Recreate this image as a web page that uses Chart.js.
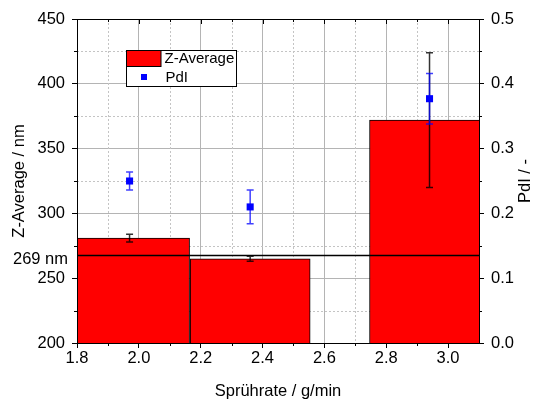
<!DOCTYPE html>
<html>
<head>
<meta charset="utf-8">
<script src="https://cdn.jsdelivr.net/npm/chart.js@4.4.0/dist/chart.umd.min.js"></script>
<style>
  html, body { margin: 0; padding: 0; background: #fff; }
</style>
</head>
<body>
<canvas id="chart" width="536" height="401"></canvas>
<script>
const rates = [1.97, 2.36, 2.94];
const zAverage = [281, 265, 372];
const zAverageErr = [3, 2, 52];
const pdi = [0.25, 0.21, 0.377];
const pdiErr = [0.014, 0.026, 0.039];
const refValue = 267.5;
const refLabel = '269 nm';

const xTicks = [1.8, 2.0, 2.2, 2.4, 2.6, 2.8, 3.0];
const xMinor = [1.9, 2.1, 2.3, 2.5, 2.7, 2.9];
const zTicks = [200, 250, 300, 350, 400, 450];
const zMinor = [225, 275, 325, 375, 425];
const pdiTicks = [0, 0.1, 0.2, 0.3, 0.4, 0.5];
const pdiMinor = [0.05, 0.15, 0.25, 0.35, 0.45];

const FONT = "'Liberation Sans', Arial, sans-serif";
const tickFont = { family: FONT, size: 16.5 };
const titleFont = { family: FONT, size: 16.5 };

const ctx = document.getElementById('chart').getContext('2d');

function errorBar(c, x, yTop, yBot, color, width) {
  c.save();
  c.strokeStyle = color;
  c.lineWidth = width;
  c.beginPath();
  c.moveTo(x, yTop);
  c.lineTo(x, yBot);
  c.moveTo(x - 3.5, yTop);
  c.lineTo(x + 3.5, yTop);
  c.moveTo(x - 3.5, yBot);
  c.lineTo(x + 3.5, yBot);
  c.stroke();
  c.restore();
}

const extras = {
  id: 'extras',
  beforeDatasetsDraw(chart) {
    const c = chart.ctx;
    const a = chart.chartArea;
    const x = chart.scales.x, y = chart.scales.y;
    // dotted minor grid
    c.save();
    c.strokeStyle = '#c4c4c4';
    c.lineWidth = 1;
    c.setLineDash([2, 2]);
    c.beginPath();
    xMinor.forEach(v => {
      const px = Math.round(x.getPixelForValue(v)) + 0.5;
      c.moveTo(px, a.top);
      c.lineTo(px, a.bottom);
    });
    zMinor.forEach(v => {
      const py = Math.round(y.getPixelForValue(v)) + 0.5;
      c.moveTo(a.left, py);
      c.lineTo(a.right, py);
    });
    c.stroke();
    c.restore();
  },
  beforeDatasetDraw(chart, args) {
    if (args.index !== 1) return;
    const x = chart.scales.x, y1 = chart.scales.y1;
    rates.forEach((r, i) => {
      errorBar(chart.ctx, x.getPixelForValue(r),
        y1.getPixelForValue(pdi[i] + pdiErr[i]),
        y1.getPixelForValue(pdi[i] - pdiErr[i]), 'rgba(0,0,255,0.75)', 1.5);
    });
  },
  afterDatasetDraw(chart, args) {
    if (args.index !== 0) return;
    const c = chart.ctx;
    const a = chart.chartArea;
    const x = chart.scales.x, y = chart.scales.y;
    const py = y.getPixelForValue(refValue);
    c.save();
    c.strokeStyle = '#000';
    c.lineWidth = 1.5;
    c.beginPath();
    c.moveTo(a.left, py);
    c.lineTo(a.right, py);
    c.stroke();
    c.restore();
    rates.forEach((r, i) => {
      errorBar(c, x.getPixelForValue(r),
        y.getPixelForValue(zAverage[i] + zAverageErr[i]),
        y.getPixelForValue(zAverage[i] - zAverageErr[i]), 'rgba(0,0,0,0.8)', 1.5);
    });
  },
  afterDatasetsDraw(chart) {
    const c = chart.ctx;
    const a = chart.chartArea;
    const x = chart.scales.x, y = chart.scales.y, y1 = chart.scales.y1;
    c.save();
    c.strokeStyle = '#000';
    c.lineWidth = 1;
    c.strokeRect(Math.round(a.left) + 0.5, Math.round(a.top) + 0.5,
      Math.round(a.right - a.left), Math.round(a.bottom - a.top));
    c.beginPath();
    // minor ticks outward
    xMinor.forEach(v => {
      const px = Math.round(x.getPixelForValue(v)) + 0.5;
      c.moveTo(px, a.bottom);
      c.lineTo(px, a.bottom + 3);
      c.moveTo(px, a.top);
      c.lineTo(px, a.top + 3);
    });
    // top major ticks inward
    xTicks.forEach(v => {
      const px = Math.round(x.getPixelForValue(v)) + 0.5;
      c.moveTo(px, a.top);
      c.lineTo(px, a.top + 5);
    });
    zMinor.forEach(v => {
      const py = Math.round(y.getPixelForValue(v)) + 0.5;
      c.moveTo(a.left, py);
      c.lineTo(a.left - 3, py);
    });
    pdiMinor.forEach(v => {
      const py = Math.round(y1.getPixelForValue(v)) + 0.5;
      c.moveTo(a.right, py);
      c.lineTo(a.right + 3, py);
    });
    c.stroke();

    // reference label on the left axis
    c.fillStyle = '#000';
    c.font = '16.5px ' + FONT;
    c.textAlign = 'right';
    c.textBaseline = 'middle';
    c.fillText(refLabel, a.left - 9, y.getPixelForValue(refValue) + 4);
    c.restore();
  },
  afterDraw(chart) {
    const c = chart.ctx;
    const a = chart.chartArea;
    const ds = chart.data.datasets;
    c.save();
    // right axis title
    c.translate(525, (a.top + a.bottom) / 2);
    c.rotate(-Math.PI / 2);
    c.fillStyle = '#000';
    c.font = '16.5px ' + FONT;
    c.textAlign = 'center';
    c.textBaseline = 'middle';
    c.fillText('PdI / -', 0, 0);
    c.restore();

    // legend
    c.save();
    c.fillStyle = '#fff';
    c.fillRect(126.5, 50.5, 110, 36);
    c.strokeStyle = '#000';
    c.lineWidth = 1;
    c.strokeRect(126.5, 50.5, 110, 36);
    c.fillStyle = ds[0].backgroundColor;
    c.fillRect(126.5, 50.5, 34.5, 16);
    c.strokeRect(126.5, 50.5, 34.5, 16);
    c.fillStyle = ds[1].backgroundColor;
    c.fillRect(141, 74, 6, 6);
    c.fillStyle = '#000';
    c.font = '15px ' + FONT;
    c.textAlign = 'left';
    c.textBaseline = 'middle';
    c.fillText(ds[0].label, 164.5, 59);
    c.fillText(ds[1].label, 165.5, 77.5);
    c.restore();
  }
};

const chart = new Chart(ctx, {
  type: 'bar',
  data: {
    datasets: [
      {
        type: 'bar',
        label: 'Z-Average',
        data: rates.map((r, i) => ({ x: r, y: zAverage[i] })),
        backgroundColor: '#ff0000',
        borderColor: '#000',
        borderWidth: 1,
        borderSkipped: false,
        barThickness: 120,
        xAxisID: 'x',
        yAxisID: 'y',
        clip: 0,
        order: 1
      },
      {
        type: 'scatter',
        label: 'PdI',
        data: rates.map((r, i) => ({ x: r, y: pdi[i] })),
        backgroundColor: '#0000ff',
        borderColor: '#0000ff',
        borderWidth: 0,
        pointStyle: 'rect',
        pointRadius: 5,
        showLine: false,
        xAxisID: 'x',
        yAxisID: 'y1',
        order: 0
      }
    ]
  },
  options: {
    responsive: false,
    animation: false,
    events: [],
    layout: { padding: { top: 19, left: 0, right: 0, bottom: 0 } },
    plugins: {
      legend: { display: false },
      tooltip: { enabled: false }
    },
    scales: {
      x: {
        type: 'linear',
        position: 'bottom',
        min: 1.8,
        max: 3.1,
        offset: false,
        afterBuildTicks: s => { s.ticks = xTicks.map(v => ({ value: v })); },
        afterFit: s => { s.height = 58; },
        grid: { offset: false, color: '#b4b4b4', tickColor: '#000', tickLength: 5 },
        border: { color: '#000' },
        ticks: {
          callback: v => v.toFixed(1),
          font: tickFont,
          color: '#000',
          padding: 1,
          maxRotation: 0,
          autoSkip: false
        },
        title: {
          display: true,
          text: 'Sprührate / g/min',
          font: titleFont,
          color: '#000',
          padding: { top: 0, bottom: 0 }
        }
      },
      y: {
        type: 'linear',
        position: 'left',
        min: 200,
        max: 450,
        afterBuildTicks: s => { s.ticks = zTicks.map(v => ({ value: v })); },
        afterFit: s => { s.width = 77; },
        grid: { color: '#b4b4b4', tickColor: '#000', tickLength: 5 },
        border: { color: '#000' },
        ticks: { callback: v => String(v), font: tickFont, color: '#000', padding: 7 },
        title: {
          display: true,
          text: 'Z-Average / nm',
          font: titleFont,
          color: '#000',
          padding: { top: 9.5, bottom: 0 }
        }
      },
      y1: {
        type: 'linear',
        position: 'right',
        min: 0,
        max: 0.5,
        afterBuildTicks: s => { s.ticks = pdiTicks.map(v => ({ value: v })); },
        afterFit: s => { s.width = 57; },
        grid: { drawOnChartArea: false, tickColor: '#000', tickLength: 5 },
        border: { color: '#000' },
        ticks: { callback: v => v.toFixed(1), font: tickFont, color: '#000', padding: 7 }
      }
    }
  },
  plugins: [extras]
});
</script>
</body>
</html>
